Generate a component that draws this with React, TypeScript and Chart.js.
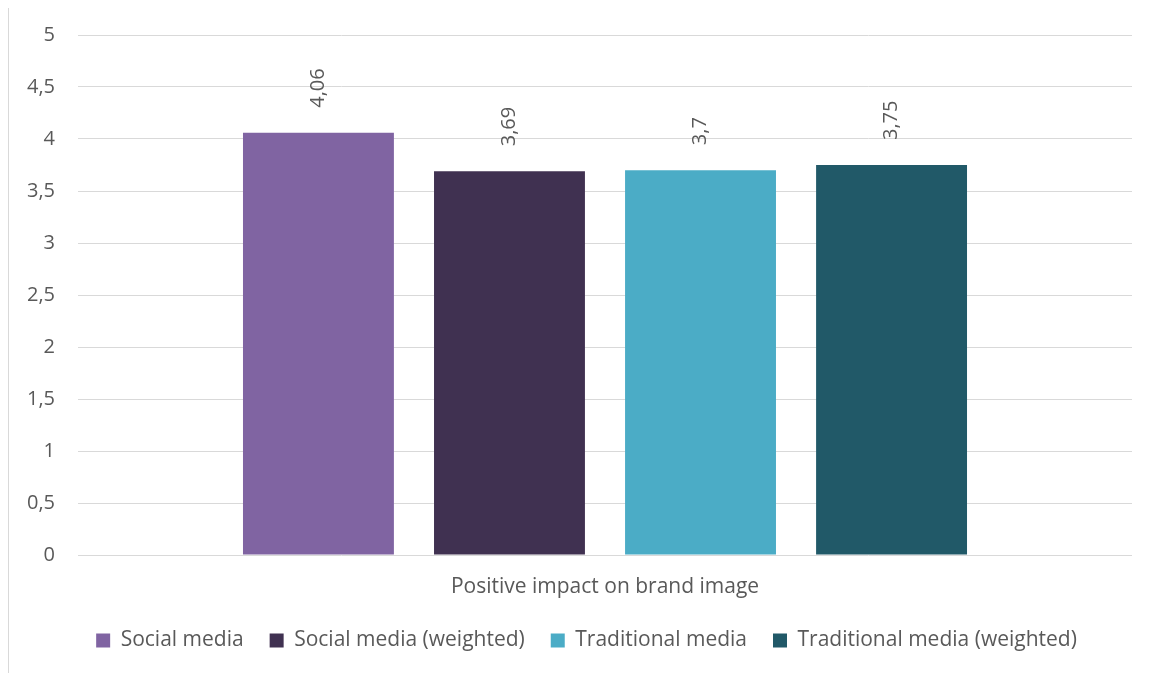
import React, { useEffect, useRef } from "react";
import { Chart, registerables } from "chart.js";

Chart.register(...registerables);

const categories = ["Positive impact on brand image"];
const seriesNames = [
  "Social media",
  "Social media (weighted)",
  "Traditional media",
  "Traditional media (weighted)",
];
const socialMedia = [4.06];
const socialMediaWeighted = [3.69];
const traditionalMedia = [3.7];
const traditionalMediaWeighted = [3.75];
const seriesColors = ["#8064A2", "#403151", "#4BACC6", "#215968"];
const yMin = 0;
const yMax = 5;
const yStep = 0.5;

const FONT = "'Open Sans', Lato, sans-serif";
const TEXT = "#595959";
const FS = 21;
const FS_NUM = 20;

const fmt = (v: number) => String(v).replace(".", ",");

const barLabels = {
  id: "barLabels",
  afterDatasetsDraw(chart: any) {
    const ctx = chart.ctx;
    ctx.save();
    ctx.font = `${FS_NUM}px ${FONT}`;
    ctx.fillStyle = TEXT;
    ctx.textAlign = "left";
    ctx.textBaseline = "middle";
    chart.data.datasets.forEach((ds: any, i: number) => {
      const meta = chart.getDatasetMeta(i);
      meta.data.forEach((bar: any, j: number) => {
        const v = ds.data[j];
        ctx.save();
        ctx.translate(bar.x, bar.y - 25);
        ctx.rotate(-Math.PI / 2);
        ctx.fillText(fmt(v), 0, 0);
        ctx.restore();
      });
    });
    ctx.restore();
  },
};

const legendShift = {
  id: "legendShift",
  afterLayout(chart: any) {
    const l = chart.legend;
    if (l) {
      l.left += 16;
      l.right += 16;
    }
  },
};

export default function App() {
  const ref = useRef<HTMLCanvasElement>(null);
  useEffect(() => {
    if (!ref.current) return;
    const allData = [socialMedia, socialMediaWeighted, traditionalMedia, traditionalMediaWeighted];
    const chart = new Chart(ref.current, {
      type: "bar",
      data: {
        labels: categories,
        datasets: allData.map((d, i) => ({
          label: seriesNames[i],
          data: d,
          backgroundColor: seriesColors[i],
          borderWidth: 0,
          categoryPercentage: 0.725,
          barPercentage: 0.79,
        })),
      },
      options: {
        responsive: false,
        animation: false,
        layout: { padding: { top: 28, right: 27, left: 0, bottom: 12 } },
        plugins: {
          tooltip: { enabled: false },
          legend: {
            position: "bottom",
            labels: {
              boxWidth: 14,
              boxHeight: 14,
              padding: 26,
              color: TEXT,
              font: { family: FONT, size: FS },
            },
          },
        },
        scales: {
          x: {
            grid: { display: false, drawTicks: false },
            border: { display: false },
            ticks: { color: TEXT, font: { family: FONT, size: FS }, padding: 19 },
            afterFit: (s: any) => {
              s.height = 49;
              s.paddingLeft = 0;
              s.paddingRight = 0;
            },
          },
          y: {
            min: yMin,
            max: yMax,
            grid: { color: "#d9d9d9", lineWidth: 1, drawTicks: false },
            border: { display: false },
            ticks: {
              stepSize: yStep,
              color: TEXT,
              padding: 23,
              font: { family: FONT, size: FS_NUM },
              callback: (v: any) => fmt(Number(v)),
            },
            afterFit: (s: any) => {
              s.width = 69;
              s.paddingTop = 0;
              s.paddingBottom = 0;
            },
          },
        },
      },
      plugins: [barLabels, legendShift],
    });
    return () => chart.destroy();
  }, []);
  return (
    <div
      style={{
        width: 1152,
        height: 667,
        boxSizing: "border-box",
        borderTop: "1px solid #d9d9d9",
        borderLeft: "1px solid #d9d9d9",
        borderRight: "1px solid #d9d9d9",
        background: "#fff",
        position: "relative",
        marginTop: -2,
      }}
    >
      <canvas ref={ref} width={1150} height={666} style={{ display: "block" }} />
    </div>
  );
}
